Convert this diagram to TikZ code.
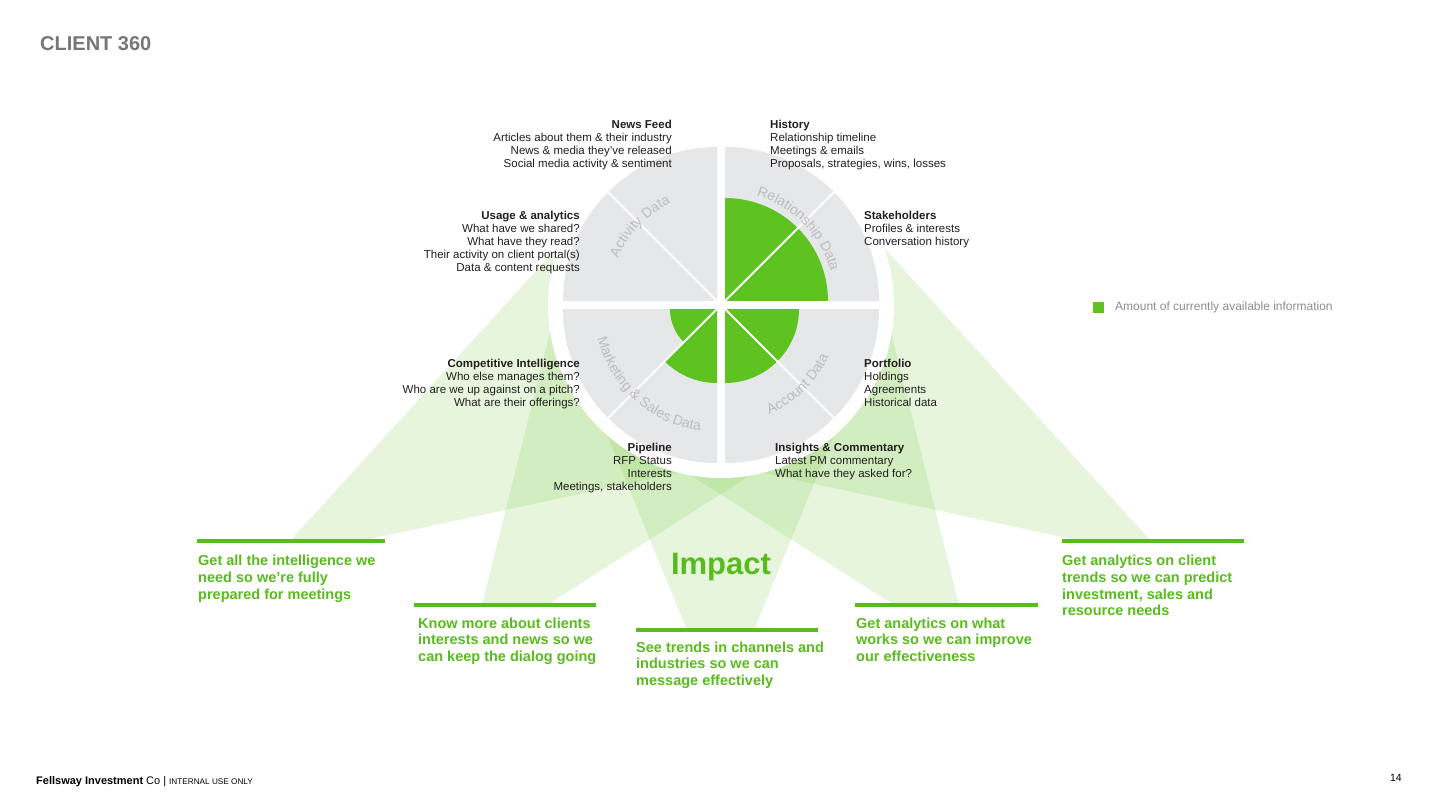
\documentclass[tikz,border=0pt]{standalone}
\usepackage{fontspec}
\setmainfont{Liberation Sans}
\usetikzlibrary{decorations.text}
\definecolor{wgreen}{RGB}{94,194,32}
\definecolor{tgreen}{RGB}{88,188,30}
\definecolor{wgray}{RGB}{230,231,232}
\definecolor{lblgray}{RGB}{188,188,190}
\definecolor{ink}{RGB}{35,31,32}
\definecolor{titlegray}{RGB}{118,118,118}
\definecolor{leggray}{RGB}{140,140,140}
\newcommand{\arcfont}{\fontsize{14}{14}\selectfont\color{lblgray}}
\begin{document}
\begin{tikzpicture}[x=1pt,y=1pt,
  beam/.style={fill=wgreen, fill opacity=0.15},
  quad/.style={fill=wgray},
  info/.style={fill=wgreen},
  divider/.style={draw=white, line width=2pt},
  srcbody/.style={font=\fontsize{11.5}{13.1}\selectfont, text=ink, inner sep=0pt},
  srcR/.style={srcbody, align=right, anchor=north east},
  srcL/.style={srcbody, align=left, anchor=north west},
  impactbar/.style={draw=tgreen, line width=3.5pt},
  impacttext/.style={font=\fontsize{14.5}{16.7}\selectfont\bfseries, text=tgreen, align=left, anchor=north west, inner sep=0pt},
  arclabel/.style={decorate, decoration={text along path, text align=center}}
]
\useasboundingbox (0,0) rectangle (1440,-810);
\fill[white] (0,0) rectangle (1440,-810);

% light green beams
\fill[beam] (290,-541) -- (557,-248) -- (715,-465) -- (360,-541) -- cycle;
\fill[beam] (482,-605) -- (558,-300) -- (760,-469) -- (547,-605) -- cycle;
\fill[beam] (687,-630) -- (556,-310) -- (885,-310) -- (754,-630) -- cycle;
\fill[beam] (894,-605) -- (681,-469) -- (883,-300) -- (959,-605) -- cycle;
\fill[beam] (1081,-541) -- (726,-465) -- (884,-248) -- (1151,-541) -- cycle;

% white disk
\fill[white] (721,-305) circle[radius=173];

% gray quadrants
\fill[quad] (717,-301) -- ++(180:154) arc[start angle=180,end angle=90,radius=154] -- cycle;
\fill[quad] (725,-301) -- ++(90:154) arc[start angle=90,end angle=0,radius=154] -- cycle;
\fill[quad] (717,-309) -- ++(180:154) arc[start angle=180,end angle=270,radius=154] -- cycle;
\fill[quad] (725,-309) -- ++(270:154) arc[start angle=270,end angle=360,radius=154] -- cycle;

% available information
\fill[info] (725,-301) -- ++(0:103) arc[start angle=0,end angle=90,radius=103] -- cycle;
\fill[info] (717,-309) -- ++(180:47) arc[start angle=180,end angle=225,radius=47] -- cycle;
\fill[info] (717,-309) -- ++(225:74) arc[start angle=225,end angle=270,radius=74] -- cycle;
\fill[info] (725,-309) -- ++(270:74) arc[start angle=270,end angle=360,radius=74] -- cycle;

% dividers
\draw[divider] (717,-301) -- ++(135:155);
\draw[divider] (725,-301) -- ++(45:155);
\draw[divider] (717,-309) -- ++(225:155);
\draw[divider] (725,-309) -- ++(315:155);

% curved labels
\path[arclabel, decoration={text={|\arcfont|Activity Data}}]
  (717,-301) ++(176:108) arc[start angle=176,end angle=96,radius=108];
\path[arclabel, decoration={text={|\arcfont|Relationship Data}}]
  (725,-301) ++(87:110) arc[start angle=87,end angle=2,radius=110];
\path[arclabel, decoration={text={|\arcfont|Marketing {\&} Sales Data}}]
  (717,-309) ++(168:123) arc[start angle=168,end angle=288,radius=123];
\path[arclabel, decoration={text={|\arcfont|Account Data}}]
  (725,-309) ++(272:114) arc[start angle=272,end angle=356,radius=114];

% source texts
\node[srcR] (newsfeed) at (672,-119.7) {\textbf{News Feed}\\Articles about them \& their industry\\News \& media they’ve released\\Social media activity \& sentiment};
\node[srcL] (history) at (770,-119.7) {\textbf{History}\\Relationship timeline\\Meetings \& emails\\Proposals, strategies, wins, losses};
\node[srcR] (usage) at (580,-210.7) {\textbf{Usage \& analytics}\\What have we shared?\\What have they read?\\Their activity on client portal(s)\\Data \& content requests};
\node[srcL] (stake) at (864,-210.7) {\textbf{Stakeholders}\\Profiles \& interests\\Conversation history};
\node[srcR] (compet) at (580,-359) {\textbf{Competitive Intelligence}\\Who else manages them?\\Who are we up against on a pitch?\\What are their offerings?};
\node[srcL] (portfolio) at (864,-359) {\textbf{Portfolio}\\Holdings\\Agreements\\Historical data};
\node[srcR] (pipeline) at (672,-443) {\textbf{Pipeline}\\RFP Status\\Interests\\Meetings, stakeholders};
\node[srcL] (insights) at (775,-443) {\textbf{Insights \& Commentary}\\Latest PM commentary\\What have they asked for?};

% impact bars and statements
\draw[impactbar] (197,-541) -- (385,-541);
\draw[impactbar] (414,-605) -- (596,-605);
\draw[impactbar] (636,-630) -- (818,-630);
\draw[impactbar] (855,-605) -- (1038,-605);
\draw[impactbar] (1062,-541) -- (1244,-541);
\node[impacttext] (imp1) at (198,-555) {Get all the intelligence we\\need so we’re fully\\prepared for meetings};
\node[impacttext] (imp2) at (418,-617.5) {Know more about clients\\interests and news so we\\can keep the dialog going};
\node[impacttext] (imp3) at (636,-641.5) {See trends in channels and\\industries so we can\\message effectively};
\node[impacttext] (imp4) at (856,-617.5) {Get analytics on what\\works so we can improve\\our effectiveness};
\node[impacttext] (imp5) at (1062,-555) {Get analytics on client\\trends so we can predict\\investment, sales and\\resource needs};
\node[font=\fontsize{31}{31}\selectfont\bfseries, text=tgreen, anchor=base, inner sep=0pt] (impact) at (721,-574) {Impact};

% title, legend, footer
\node[anchor=base west, font=\fontsize{20}{20}\selectfont\bfseries, text=titlegray, inner sep=0pt] (title) at (40,-50.2) {CLIENT 360};
\fill[wgreen] (1093,-302) rectangle (1104,-313);
\node[anchor=base west, font=\fontsize{12}{12}\selectfont, text=leggray, inner sep=0pt] (legend) at (1115,-310) {Amount of currently available information};
\node[anchor=base west, font=\fontsize{11}{11}\selectfont, text=black, inner sep=0pt] (footer) at (36,-784) {\textbf{Fellsway Investment} Co |\hspace{3pt}{\fontsize{8.2}{9}\selectfont INTERNAL USE ONLY}};
\node[anchor=base east, font=\fontsize{10.5}{10.5}\selectfont, text=black, inner sep=0pt] (pagenum) at (1402,-781.5) {14};
\end{tikzpicture}
\end{document}
